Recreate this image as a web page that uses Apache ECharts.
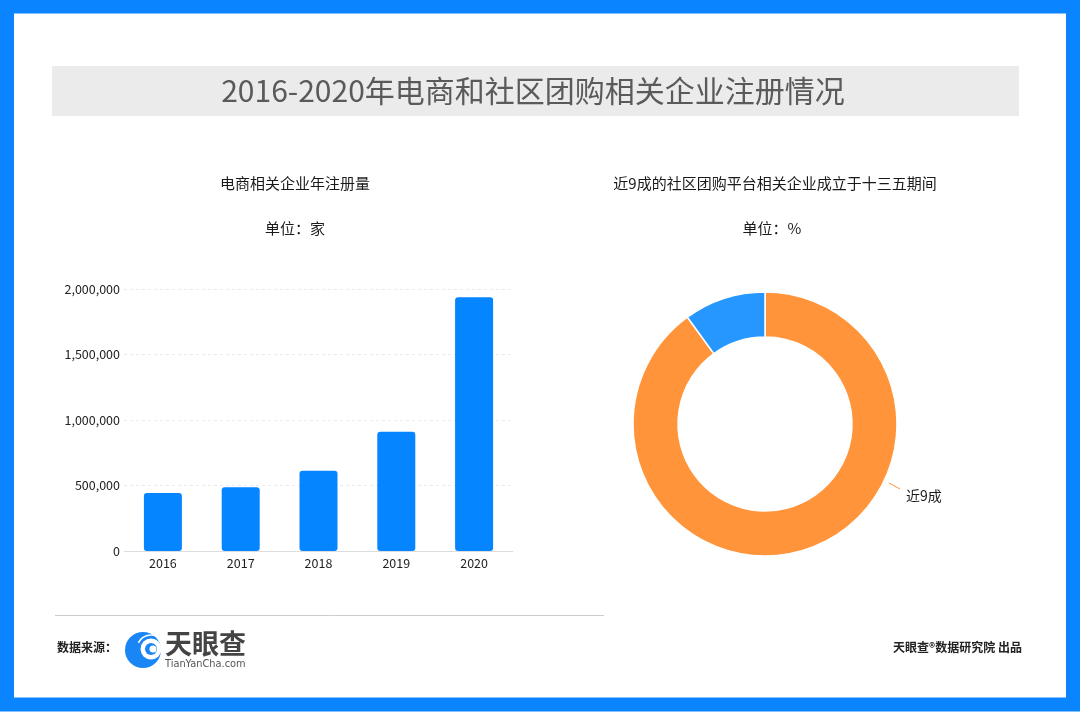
<!DOCTYPE html>
<html>
<head>
<meta charset="utf-8">
<script src="https://cdn.jsdelivr.net/npm/echarts@6/dist/echarts.min.js"></script>
<style>
html,body{margin:0;padding:0;background:#fff;}
#main{width:1080px;height:712px;}
</style>
</head>
<body>
<div id="main"></div>
<script>
// ---- data ----
var years = ['2016', '2017', '2018', '2019', '2020'];
var registrations = [443000, 487000, 612000, 910000, 1937000];
var yTicks = [0, 500000, 1000000, 1500000, 2000000];
var pieNames = ['近9成', '其他'];
var pieValues = [90, 10];

var mainTitle = '2016-2020年电商和社区团购相关企业注册情况';
var barTitle = '电商相关企业年注册量';
var barUnit = '单位：家';
var pieTitle = '近9成的社区团购平台相关企业成立于十三五期间';
var pieUnit = '单位：%';

var FONT = '"Noto Sans CJK SC", "Noto Sans", sans-serif';

function fmt(v) { return String(v).replace(/\B(?=(\d{3})+(?!\d))/g, ','); }

var chart = echarts.init(document.getElementById('main'), null, {renderer: 'canvas'});

var option = {
  backgroundColor: '#ffffff',
  textStyle: {fontFamily: FONT},
  animation: false,
  title: [
    {text: mainTitle, left: 528, top: 71, textAlign: 'center',
     textStyle: {fontSize: 30, fontWeight: 'normal', color: '#5a5a5a', fontFamily: FONT}},
    {text: barTitle, left: 290, top: 171, textAlign: 'center',
     textStyle: {fontSize: 15, fontWeight: 'normal', color: '#1a1a1a', fontFamily: FONT}},
    {text: barUnit, left: 290, top: 216, textAlign: 'center',
     textStyle: {fontSize: 15, fontWeight: 'normal', color: '#1a1a1a', fontFamily: FONT}},
    {text: pieTitle, left: 770, top: 171, textAlign: 'center',
     textStyle: {fontSize: 15, fontWeight: 'normal', color: '#1a1a1a', fontFamily: FONT}},
    {text: pieUnit, left: 767, top: 216, textAlign: 'center',
     textStyle: {fontSize: 15, fontWeight: 'normal', color: '#1a1a1a', fontFamily: FONT}}
  ],
  grid: {left: 124, right: 567, top: 289, bottom: 161, containLabel: false},
  xAxis: {
    type: 'category',
    data: years,
    axisTick: {show: false},
    axisLine: {lineStyle: {color: '#dddddd', width: 1}},
    axisLabel: {color: '#222', fontSize: 12.5, margin: 6, fontFamily: FONT}
  },
  yAxis: {
    type: 'value',
    min: yTicks[0],
    max: yTicks[yTicks.length - 1],
    interval: yTicks[1] - yTicks[0],
    axisLine: {show: false},
    axisTick: {show: false},
    axisLabel: {color: '#222', fontSize: 12.5, margin: 4, fontFamily: FONT, formatter: fmt},
    splitLine: {lineStyle: {color: '#eaeaea', type: [3, 3]}}
  },
  series: [
    {
      type: 'bar',
      data: registrations,
      barWidth: 38,
      itemStyle: {color: '#0585ff', borderRadius: [3, 3, 3, 3]},
      label: {show: false}
    },
    {
      type: 'pie',
      center: [765, 424],
      radius: [87, 132],
      startAngle: 90,
      clockwise: true,
      itemStyle: {borderColor: '#ffffff', borderWidth: 1.5},
      label: {show: true, position: 'outside', color: '#1a1a1a', fontSize: 14, fontFamily: FONT, formatter: '{b}'},
      labelLine: {show: false},
      labelLayout: function (p) {
        if (p.dataIndex === 0) {
          return {x: 906, y: 496, align: 'left', verticalAlign: 'middle'};
        }
        return {};
      },
      data: [
        {name: pieNames[0], value: pieValues[0], itemStyle: {color: '#ff943b'}},
        {name: pieNames[1], value: pieValues[1], itemStyle: {color: '#2597ff'},
         label: {show: false}}
      ]
    }
  ],
  graphic: [
    // outer blue frame
    {type: 'rect', shape: {x: 7, y: 6.5, width: 1066, height: 698}, z: 10,
     style: {fill: null, stroke: '#0a85ff', lineWidth: 14}},
    // title band
    {type: 'rect', shape: {x: 52, y: 66, width: 967, height: 50}, z: -1,
     style: {fill: '#ebebeb'}},
    // separator
    {type: 'line', shape: {x1: 55, y1: 615.5, x2: 604, y2: 615.5},
     style: {stroke: '#cccccc', lineWidth: 1}},
    // short leader line for the donut label
    {type: 'line', shape: {x1: 889, y1: 483, x2: 900, y2: 489},
     style: {stroke: '#ff943b', lineWidth: 1}},
    // footer source label
    {type: 'text', x: 57, y: 641, style: {text: '数据来源：', fill: '#222', fontSize: 12, fontWeight: 'bold', fontFamily: FONT}},
    // logo icon
    {type: 'circle', shape: {cx: 143, cy: 650, r: 18}, style: {fill: '#1a86f5'}},
    {type: 'circle', shape: {cx: 151, cy: 649, r: 10.5}, style: {fill: '#ffffff'}},
    {type: 'arc', shape: {cx: 151, cy: 649, r: 14, startAngle: 3.6, endAngle: 5.6}, style: {stroke: '#ffffff', lineWidth: 1.5, fill: null}},
    {type: 'circle', shape: {cx: 151, cy: 649, r: 6}, style: {fill: '#1a86f5'}},
    {type: 'circle', shape: {cx: 153, cy: 649, r: 3.5}, style: {fill: '#ffffff'}},
    // logo text
    {type: 'text', x: 165, y: 630, style: {text: '天眼查', fill: '#444', fontSize: 27, fontWeight: 'bold', fontFamily: FONT}},
    {type: 'text', x: 165, y: 659, style: {text: 'TianYanCha.com', fill: '#555', fontSize: 9.8, fontFamily: '"DejaVu Sans", sans-serif'}},
    // right footer
    {type: 'text', x: 1022, y: 641, style: {text: '天眼查®数据研究院 出品', fill: '#222', fontSize: 12, fontWeight: 'bold', fontFamily: FONT, align: 'right'}}
  ]
};

chart.setOption(option);
</script>
</body>
</html>
